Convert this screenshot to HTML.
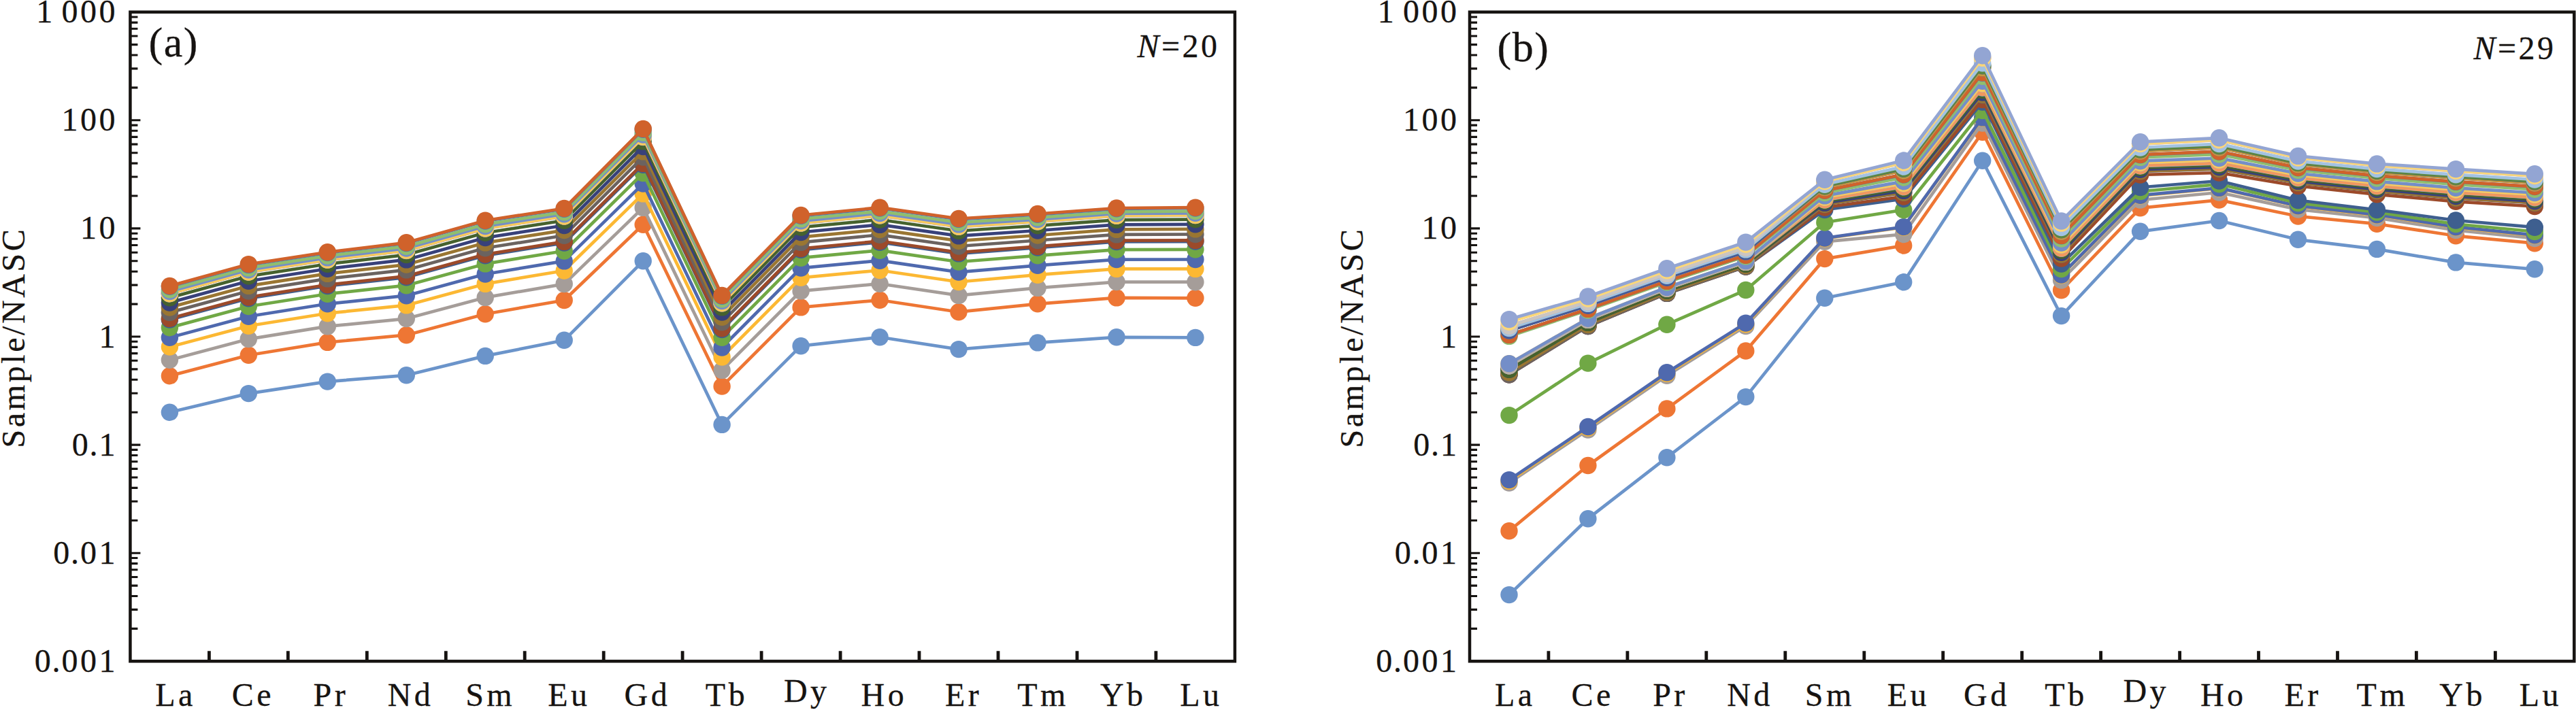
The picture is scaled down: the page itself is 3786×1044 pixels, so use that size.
<!DOCTYPE html>
<html lang="en">
<head>
<meta charset="utf-8">
<title>NASC-normalized REE patterns</title>
<style>
html,body{margin:0;padding:0;background:#fff;}
body{width:3786px;height:1044px;overflow:hidden;}
svg{display:block;}
.t{font-family:'Liberation Serif', 'Times New Roman', serif;font-size:48px;letter-spacing:3.5px;fill:#161311;stroke:#161311;stroke-width:.3px;}
.e{letter-spacing:4.5px;}
.g{font-family:'Liberation Serif', 'Times New Roman', serif;font-size:62px;letter-spacing:1.5px;fill:#161311;stroke:#161311;stroke-width:.3px;}
</style>
</head>
<body>
<svg width="3786" height="1044" viewBox="0 0 3786 1044">
<rect width="3786" height="1044" fill="#ffffff"/>
<g id="panel-a">
<g fill="#6B94CA" stroke="none"><polyline points="249.4,606.2 365.3,578.6 481.3,561.1 597.3,551.8 713.2,523.4 829.2,500.3 945.2,383.8 1061.1,624.4 1177.1,508.7 1293.1,495.8 1409,513.6 1525,503.9 1641,495.8 1756.9,496.4" fill="none" stroke="#6B94CA" stroke-width="4.7" stroke-linejoin="round"/>
<circle cx="249.4" cy="606.2" r="12.7"/>
<circle cx="365.3" cy="578.6" r="12.7"/>
<circle cx="481.3" cy="561.1" r="12.7"/>
<circle cx="597.3" cy="551.8" r="12.7"/>
<circle cx="713.2" cy="523.4" r="12.7"/>
<circle cx="829.2" cy="500.3" r="12.7"/>
<circle cx="945.2" cy="383.8" r="12.7"/>
<circle cx="1061.1" cy="624.4" r="12.7"/>
<circle cx="1177.1" cy="508.7" r="12.7"/>
<circle cx="1293.1" cy="495.8" r="12.7"/>
<circle cx="1409" cy="513.6" r="12.7"/>
<circle cx="1525" cy="503.9" r="12.7"/>
<circle cx="1641" cy="495.8" r="12.7"/>
<circle cx="1756.9" cy="496.4" r="12.7"/>
</g>
<g fill="#EE7634" stroke="none"><polyline points="249.4,552.7 365.3,522.3 481.3,503.4 597.3,492.7 713.2,461.7 829.2,441.5 945.2,330.3 1061.1,568.1 1177.1,451.9 1293.1,441.3 1409,458.7 1525,446.8 1641,437.9 1756.9,438.3" fill="none" stroke="#EE7634" stroke-width="4.7" stroke-linejoin="round"/>
<circle cx="249.4" cy="552.7" r="12.7"/>
<circle cx="365.3" cy="522.3" r="12.7"/>
<circle cx="481.3" cy="503.4" r="12.7"/>
<circle cx="597.3" cy="492.7" r="12.7"/>
<circle cx="713.2" cy="461.7" r="12.7"/>
<circle cx="829.2" cy="441.5" r="12.7"/>
<circle cx="945.2" cy="330.3" r="12.7"/>
<circle cx="1061.1" cy="568.1" r="12.7"/>
<circle cx="1177.1" cy="451.9" r="12.7"/>
<circle cx="1293.1" cy="441.3" r="12.7"/>
<circle cx="1409" cy="458.7" r="12.7"/>
<circle cx="1525" cy="446.8" r="12.7"/>
<circle cx="1641" cy="437.9" r="12.7"/>
<circle cx="1756.9" cy="438.3" r="12.7"/>
</g>
<g fill="#A59D99" stroke="none"><polyline points="249.4,529.3 365.3,498.6 481.3,479.9 597.3,468.6 713.2,437.4 829.2,417.6 945.2,305.4 1061.1,544.4 1177.1,427.9 1293.1,417.2 1409,434.4 1525,423.4 1641,414.6 1756.9,414.7" fill="none" stroke="#A59D99" stroke-width="4.7" stroke-linejoin="round"/>
<circle cx="249.4" cy="529.3" r="12.7"/>
<circle cx="365.3" cy="498.6" r="12.7"/>
<circle cx="481.3" cy="479.9" r="12.7"/>
<circle cx="597.3" cy="468.6" r="12.7"/>
<circle cx="713.2" cy="437.4" r="12.7"/>
<circle cx="829.2" cy="417.6" r="12.7"/>
<circle cx="945.2" cy="305.4" r="12.7"/>
<circle cx="1061.1" cy="544.4" r="12.7"/>
<circle cx="1177.1" cy="427.9" r="12.7"/>
<circle cx="1293.1" cy="417.2" r="12.7"/>
<circle cx="1409" cy="434.4" r="12.7"/>
<circle cx="1525" cy="423.4" r="12.7"/>
<circle cx="1641" cy="414.6" r="12.7"/>
<circle cx="1756.9" cy="414.7" r="12.7"/>
</g>
<g fill="#FCB833" stroke="none"><polyline points="249.4,510.1 365.3,479.2 481.3,460.7 597.3,448.9 713.2,417.4 829.2,398 945.2,284.9 1061.1,525 1177.1,408.3 1293.1,397.5 1409,414.5 1525,404.2 1641,395.4 1756.9,395.4" fill="none" stroke="#FCB833" stroke-width="4.7" stroke-linejoin="round"/>
<circle cx="249.4" cy="510.1" r="12.7"/>
<circle cx="365.3" cy="479.2" r="12.7"/>
<circle cx="481.3" cy="460.7" r="12.7"/>
<circle cx="597.3" cy="448.9" r="12.7"/>
<circle cx="713.2" cy="417.4" r="12.7"/>
<circle cx="829.2" cy="398" r="12.7"/>
<circle cx="945.2" cy="284.9" r="12.7"/>
<circle cx="1061.1" cy="525" r="12.7"/>
<circle cx="1177.1" cy="408.3" r="12.7"/>
<circle cx="1293.1" cy="397.5" r="12.7"/>
<circle cx="1409" cy="414.5" r="12.7"/>
<circle cx="1525" cy="404.2" r="12.7"/>
<circle cx="1641" cy="395.4" r="12.7"/>
<circle cx="1756.9" cy="395.4" r="12.7"/>
</g>
<g fill="#4F69AE" stroke="none"><polyline points="249.4,496.3 365.3,465.2 481.3,446.8 597.3,434.7 713.2,403 829.2,383.9 945.2,270.1 1061.1,511 1177.1,394.1 1293.1,383.2 1409,400.1 1525,390.3 1641,381.6 1756.9,381.5" fill="none" stroke="#4F69AE" stroke-width="4.7" stroke-linejoin="round"/>
<circle cx="249.4" cy="496.3" r="12.7"/>
<circle cx="365.3" cy="465.2" r="12.7"/>
<circle cx="481.3" cy="446.8" r="12.7"/>
<circle cx="597.3" cy="434.7" r="12.7"/>
<circle cx="713.2" cy="403" r="12.7"/>
<circle cx="829.2" cy="383.9" r="12.7"/>
<circle cx="945.2" cy="270.1" r="12.7"/>
<circle cx="1061.1" cy="511" r="12.7"/>
<circle cx="1177.1" cy="394.1" r="12.7"/>
<circle cx="1293.1" cy="383.2" r="12.7"/>
<circle cx="1409" cy="400.1" r="12.7"/>
<circle cx="1525" cy="390.3" r="12.7"/>
<circle cx="1641" cy="381.6" r="12.7"/>
<circle cx="1756.9" cy="381.5" r="12.7"/>
</g>
<g fill="#70A845" stroke="none"><polyline points="249.4,481.7 365.3,450.5 481.3,432.2 597.3,419.7 713.2,387.9 829.2,369 945.2,254.6 1061.1,496.3 1177.1,379.2 1293.1,368.2 1409,385 1525,375.8 1641,367.1 1756.9,366.8" fill="none" stroke="#70A845" stroke-width="4.7" stroke-linejoin="round"/>
<circle cx="249.4" cy="481.7" r="12.7"/>
<circle cx="365.3" cy="450.5" r="12.7"/>
<circle cx="481.3" cy="432.2" r="12.7"/>
<circle cx="597.3" cy="419.7" r="12.7"/>
<circle cx="713.2" cy="387.9" r="12.7"/>
<circle cx="829.2" cy="369" r="12.7"/>
<circle cx="945.2" cy="254.6" r="12.7"/>
<circle cx="1061.1" cy="496.3" r="12.7"/>
<circle cx="1177.1" cy="379.2" r="12.7"/>
<circle cx="1293.1" cy="368.2" r="12.7"/>
<circle cx="1409" cy="385" r="12.7"/>
<circle cx="1525" cy="375.8" r="12.7"/>
<circle cx="1641" cy="367.1" r="12.7"/>
<circle cx="1756.9" cy="366.8" r="12.7"/>
</g>
<g fill="#3E5F8F" stroke="none"><polyline points="249.4,470.1 365.3,438.7 481.3,420.5 597.3,407.8 713.2,375.8 829.2,357.1 945.2,242.2 1061.1,484.5 1177.1,367.3 1293.1,356.2 1409,372.9 1525,364.1 1641,355.5 1756.9,355.1" fill="none" stroke="#3E5F8F" stroke-width="4.7" stroke-linejoin="round"/>
<circle cx="249.4" cy="470.1" r="12.7"/>
<circle cx="365.3" cy="438.7" r="12.7"/>
<circle cx="481.3" cy="420.5" r="12.7"/>
<circle cx="597.3" cy="407.8" r="12.7"/>
<circle cx="713.2" cy="375.8" r="12.7"/>
<circle cx="829.2" cy="357.1" r="12.7"/>
<circle cx="945.2" cy="242.2" r="12.7"/>
<circle cx="1061.1" cy="484.5" r="12.7"/>
<circle cx="1177.1" cy="367.3" r="12.7"/>
<circle cx="1293.1" cy="356.2" r="12.7"/>
<circle cx="1409" cy="372.9" r="12.7"/>
<circle cx="1525" cy="364.1" r="12.7"/>
<circle cx="1641" cy="355.5" r="12.7"/>
<circle cx="1756.9" cy="355.1" r="12.7"/>
</g>
<g fill="#9C4A2A" stroke="none"><polyline points="249.4,468.4 365.3,437 481.3,418.8 597.3,406 713.2,374 829.2,355.4 945.2,240.4 1061.1,482.8 1177.1,365.5 1293.1,354.5 1409,371.2 1525,362.4 1641,353.7 1756.9,353.4" fill="none" stroke="#9C4A2A" stroke-width="4.7" stroke-linejoin="round"/>
<circle cx="249.4" cy="468.4" r="12.7"/>
<circle cx="365.3" cy="437" r="12.7"/>
<circle cx="481.3" cy="418.8" r="12.7"/>
<circle cx="597.3" cy="406" r="12.7"/>
<circle cx="713.2" cy="374" r="12.7"/>
<circle cx="829.2" cy="355.4" r="12.7"/>
<circle cx="945.2" cy="240.4" r="12.7"/>
<circle cx="1061.1" cy="482.8" r="12.7"/>
<circle cx="1177.1" cy="365.5" r="12.7"/>
<circle cx="1293.1" cy="354.5" r="12.7"/>
<circle cx="1409" cy="371.2" r="12.7"/>
<circle cx="1525" cy="362.4" r="12.7"/>
<circle cx="1641" cy="353.7" r="12.7"/>
<circle cx="1756.9" cy="353.4" r="12.7"/>
</g>
<g fill="#6B6360" stroke="none"><polyline points="249.4,459.5 365.3,428 481.3,409.9 597.3,396.9 713.2,364.8 829.2,346.3 945.2,231 1061.1,473.8 1177.1,356.4 1293.1,345.3 1409,362 1525,353.5 1641,344.9 1756.9,344.5" fill="none" stroke="#6B6360" stroke-width="4.7" stroke-linejoin="round"/>
<circle cx="249.4" cy="459.5" r="12.7"/>
<circle cx="365.3" cy="428" r="12.7"/>
<circle cx="481.3" cy="409.9" r="12.7"/>
<circle cx="597.3" cy="396.9" r="12.7"/>
<circle cx="713.2" cy="364.8" r="12.7"/>
<circle cx="829.2" cy="346.3" r="12.7"/>
<circle cx="945.2" cy="231" r="12.7"/>
<circle cx="1061.1" cy="473.8" r="12.7"/>
<circle cx="1177.1" cy="356.4" r="12.7"/>
<circle cx="1293.1" cy="345.3" r="12.7"/>
<circle cx="1409" cy="362" r="12.7"/>
<circle cx="1525" cy="353.5" r="12.7"/>
<circle cx="1641" cy="344.9" r="12.7"/>
<circle cx="1756.9" cy="344.5" r="12.7"/>
</g>
<g fill="#9A7632" stroke="none"><polyline points="249.4,452 365.3,420.4 481.3,402.4 597.3,389.1 713.2,356.9 829.2,338.6 945.2,222.9 1061.1,466.2 1177.1,348.7 1293.1,337.6 1409,354.2 1525,346 1641,337.4 1756.9,336.9" fill="none" stroke="#9A7632" stroke-width="4.7" stroke-linejoin="round"/>
<circle cx="249.4" cy="452" r="12.7"/>
<circle cx="365.3" cy="420.4" r="12.7"/>
<circle cx="481.3" cy="402.4" r="12.7"/>
<circle cx="597.3" cy="389.1" r="12.7"/>
<circle cx="713.2" cy="356.9" r="12.7"/>
<circle cx="829.2" cy="338.6" r="12.7"/>
<circle cx="945.2" cy="222.9" r="12.7"/>
<circle cx="1061.1" cy="466.2" r="12.7"/>
<circle cx="1177.1" cy="348.7" r="12.7"/>
<circle cx="1293.1" cy="337.6" r="12.7"/>
<circle cx="1409" cy="354.2" r="12.7"/>
<circle cx="1525" cy="346" r="12.7"/>
<circle cx="1641" cy="337.4" r="12.7"/>
<circle cx="1756.9" cy="336.9" r="12.7"/>
</g>
<g fill="#38417A" stroke="none"><polyline points="249.4,445 365.3,413.3 481.3,395.3 597.3,381.9 713.2,349.6 829.2,331.5 945.2,215.5 1061.1,459.1 1177.1,341.5 1293.1,330.4 1409,346.9 1525,339 1641,330.4 1756.9,329.8" fill="none" stroke="#38417A" stroke-width="4.7" stroke-linejoin="round"/>
<circle cx="249.4" cy="445" r="12.7"/>
<circle cx="365.3" cy="413.3" r="12.7"/>
<circle cx="481.3" cy="395.3" r="12.7"/>
<circle cx="597.3" cy="381.9" r="12.7"/>
<circle cx="713.2" cy="349.6" r="12.7"/>
<circle cx="829.2" cy="331.5" r="12.7"/>
<circle cx="945.2" cy="215.5" r="12.7"/>
<circle cx="1061.1" cy="459.1" r="12.7"/>
<circle cx="1177.1" cy="341.5" r="12.7"/>
<circle cx="1293.1" cy="330.4" r="12.7"/>
<circle cx="1409" cy="346.9" r="12.7"/>
<circle cx="1525" cy="339" r="12.7"/>
<circle cx="1641" cy="330.4" r="12.7"/>
<circle cx="1756.9" cy="329.8" r="12.7"/>
</g>
<g fill="#46622E" stroke="none"><polyline points="249.4,437.8 365.3,406.1 481.3,388.2 597.3,374.6 713.2,342.2 829.2,324.2 945.2,207.9 1061.1,451.9 1177.1,334.2 1293.1,323 1409,339.5 1525,331.8 1641,323.3 1756.9,322.6" fill="none" stroke="#46622E" stroke-width="4.7" stroke-linejoin="round"/>
<circle cx="249.4" cy="437.8" r="12.7"/>
<circle cx="365.3" cy="406.1" r="12.7"/>
<circle cx="481.3" cy="388.2" r="12.7"/>
<circle cx="597.3" cy="374.6" r="12.7"/>
<circle cx="713.2" cy="342.2" r="12.7"/>
<circle cx="829.2" cy="324.2" r="12.7"/>
<circle cx="945.2" cy="207.9" r="12.7"/>
<circle cx="1061.1" cy="451.9" r="12.7"/>
<circle cx="1177.1" cy="334.2" r="12.7"/>
<circle cx="1293.1" cy="323" r="12.7"/>
<circle cx="1409" cy="339.5" r="12.7"/>
<circle cx="1525" cy="331.8" r="12.7"/>
<circle cx="1641" cy="323.3" r="12.7"/>
<circle cx="1756.9" cy="322.6" r="12.7"/>
</g>
<g fill="#85ADD8" stroke="none"><polyline points="249.4,431.9 365.3,400.1 481.3,382.2 597.3,368.5 713.2,336 829.2,318.1 945.2,201.5 1061.1,445.9 1177.1,328.1 1293.1,316.9 1409,333.3 1525,325.9 1641,317.3 1756.9,316.6" fill="none" stroke="#85ADD8" stroke-width="4.7" stroke-linejoin="round"/>
<circle cx="249.4" cy="431.9" r="12.7"/>
<circle cx="365.3" cy="400.1" r="12.7"/>
<circle cx="481.3" cy="382.2" r="12.7"/>
<circle cx="597.3" cy="368.5" r="12.7"/>
<circle cx="713.2" cy="336" r="12.7"/>
<circle cx="829.2" cy="318.1" r="12.7"/>
<circle cx="945.2" cy="201.5" r="12.7"/>
<circle cx="1061.1" cy="445.9" r="12.7"/>
<circle cx="1177.1" cy="328.1" r="12.7"/>
<circle cx="1293.1" cy="316.9" r="12.7"/>
<circle cx="1409" cy="333.3" r="12.7"/>
<circle cx="1525" cy="325.9" r="12.7"/>
<circle cx="1641" cy="317.3" r="12.7"/>
<circle cx="1756.9" cy="316.6" r="12.7"/>
</g>
<g fill="#F0975F" stroke="none"><polyline points="249.4,431.7 365.3,400 481.3,382.1 597.3,368.4 713.2,335.9 829.2,318 945.2,201.4 1061.1,445.8 1177.1,328 1293.1,316.8 1409,333.2 1525,325.7 1641,317.2 1756.9,316.5" fill="none" stroke="#F0975F" stroke-width="4.7" stroke-linejoin="round"/>
<circle cx="249.4" cy="431.7" r="12.7"/>
<circle cx="365.3" cy="400" r="12.7"/>
<circle cx="481.3" cy="382.1" r="12.7"/>
<circle cx="597.3" cy="368.4" r="12.7"/>
<circle cx="713.2" cy="335.9" r="12.7"/>
<circle cx="829.2" cy="318" r="12.7"/>
<circle cx="945.2" cy="201.4" r="12.7"/>
<circle cx="1061.1" cy="445.8" r="12.7"/>
<circle cx="1177.1" cy="328" r="12.7"/>
<circle cx="1293.1" cy="316.8" r="12.7"/>
<circle cx="1409" cy="333.2" r="12.7"/>
<circle cx="1525" cy="325.7" r="12.7"/>
<circle cx="1641" cy="317.2" r="12.7"/>
<circle cx="1756.9" cy="316.5" r="12.7"/>
</g>
<g fill="#B8B1AD" stroke="none"><polyline points="249.4,431.6 365.3,399.8 481.3,381.9 597.3,368.2 713.2,335.8 829.2,317.8 945.2,201.2 1061.1,445.6 1177.1,327.9 1293.1,316.6 1409,333 1525,325.6 1641,317.1 1756.9,316.4" fill="none" stroke="#B8B1AD" stroke-width="4.7" stroke-linejoin="round"/>
<circle cx="249.4" cy="431.6" r="12.7"/>
<circle cx="365.3" cy="399.8" r="12.7"/>
<circle cx="481.3" cy="381.9" r="12.7"/>
<circle cx="597.3" cy="368.2" r="12.7"/>
<circle cx="713.2" cy="335.8" r="12.7"/>
<circle cx="829.2" cy="317.8" r="12.7"/>
<circle cx="945.2" cy="201.2" r="12.7"/>
<circle cx="1061.1" cy="445.6" r="12.7"/>
<circle cx="1177.1" cy="327.9" r="12.7"/>
<circle cx="1293.1" cy="316.6" r="12.7"/>
<circle cx="1409" cy="333" r="12.7"/>
<circle cx="1525" cy="325.6" r="12.7"/>
<circle cx="1641" cy="317.1" r="12.7"/>
<circle cx="1756.9" cy="316.4" r="12.7"/>
</g>
<g fill="#FACB5C" stroke="none"><polyline points="249.4,431.5 365.3,399.7 481.3,381.8 597.3,368.1 713.2,335.6 829.2,317.7 945.2,201.1 1061.1,445.5 1177.1,327.7 1293.1,316.5 1409,332.9 1525,325.5 1641,316.9 1756.9,316.2" fill="none" stroke="#FACB5C" stroke-width="4.7" stroke-linejoin="round"/>
<circle cx="249.4" cy="431.5" r="12.7"/>
<circle cx="365.3" cy="399.7" r="12.7"/>
<circle cx="481.3" cy="381.8" r="12.7"/>
<circle cx="597.3" cy="368.1" r="12.7"/>
<circle cx="713.2" cy="335.6" r="12.7"/>
<circle cx="829.2" cy="317.7" r="12.7"/>
<circle cx="945.2" cy="201.1" r="12.7"/>
<circle cx="1061.1" cy="445.5" r="12.7"/>
<circle cx="1177.1" cy="327.7" r="12.7"/>
<circle cx="1293.1" cy="316.5" r="12.7"/>
<circle cx="1409" cy="332.9" r="12.7"/>
<circle cx="1525" cy="325.5" r="12.7"/>
<circle cx="1641" cy="316.9" r="12.7"/>
<circle cx="1756.9" cy="316.2" r="12.7"/>
</g>
<g fill="#748EC8" stroke="none"><polyline points="249.4,428.6 365.3,396.8 481.3,378.9 597.3,365.1 713.2,332.6 829.2,314.7 945.2,198 1061.1,442.6 1177.1,324.8 1293.1,313.5 1409,329.9 1525,322.6 1641,314 1756.9,313.3" fill="none" stroke="#748EC8" stroke-width="4.7" stroke-linejoin="round"/>
<circle cx="249.4" cy="428.6" r="12.7"/>
<circle cx="365.3" cy="396.8" r="12.7"/>
<circle cx="481.3" cy="378.9" r="12.7"/>
<circle cx="597.3" cy="365.1" r="12.7"/>
<circle cx="713.2" cy="332.6" r="12.7"/>
<circle cx="829.2" cy="314.7" r="12.7"/>
<circle cx="945.2" cy="198" r="12.7"/>
<circle cx="1061.1" cy="442.6" r="12.7"/>
<circle cx="1177.1" cy="324.8" r="12.7"/>
<circle cx="1293.1" cy="313.5" r="12.7"/>
<circle cx="1409" cy="329.9" r="12.7"/>
<circle cx="1525" cy="322.6" r="12.7"/>
<circle cx="1641" cy="314" r="12.7"/>
<circle cx="1756.9" cy="313.3" r="12.7"/>
</g>
<g fill="#90BE6E" stroke="none"><polyline points="249.4,425.8 365.3,393.9 481.3,376.1 597.3,362.2 713.2,329.7 829.2,311.9 945.2,195 1061.1,439.7 1177.1,321.9 1293.1,310.6 1409,327 1525,319.8 1641,311.3 1756.9,310.5" fill="none" stroke="#90BE6E" stroke-width="4.7" stroke-linejoin="round"/>
<circle cx="249.4" cy="425.8" r="12.7"/>
<circle cx="365.3" cy="393.9" r="12.7"/>
<circle cx="481.3" cy="376.1" r="12.7"/>
<circle cx="597.3" cy="362.2" r="12.7"/>
<circle cx="713.2" cy="329.7" r="12.7"/>
<circle cx="829.2" cy="311.9" r="12.7"/>
<circle cx="945.2" cy="195" r="12.7"/>
<circle cx="1061.1" cy="439.7" r="12.7"/>
<circle cx="1177.1" cy="321.9" r="12.7"/>
<circle cx="1293.1" cy="310.6" r="12.7"/>
<circle cx="1409" cy="327" r="12.7"/>
<circle cx="1525" cy="319.8" r="12.7"/>
<circle cx="1641" cy="311.3" r="12.7"/>
<circle cx="1756.9" cy="310.5" r="12.7"/>
</g>
<g fill="#477DBB" stroke="none"><polyline points="249.4,421.3 365.3,389.4 481.3,371.6 597.3,357.6 713.2,325 829.2,307.3 945.2,190.2 1061.1,435.2 1177.1,317.3 1293.1,306 1409,322.3 1525,315.3 1641,306.8 1756.9,306" fill="none" stroke="#477DBB" stroke-width="4.7" stroke-linejoin="round"/>
<circle cx="249.4" cy="421.3" r="12.7"/>
<circle cx="365.3" cy="389.4" r="12.7"/>
<circle cx="481.3" cy="371.6" r="12.7"/>
<circle cx="597.3" cy="357.6" r="12.7"/>
<circle cx="713.2" cy="325" r="12.7"/>
<circle cx="829.2" cy="307.3" r="12.7"/>
<circle cx="945.2" cy="190.2" r="12.7"/>
<circle cx="1061.1" cy="435.2" r="12.7"/>
<circle cx="1177.1" cy="317.3" r="12.7"/>
<circle cx="1293.1" cy="306" r="12.7"/>
<circle cx="1409" cy="322.3" r="12.7"/>
<circle cx="1525" cy="315.3" r="12.7"/>
<circle cx="1641" cy="306.8" r="12.7"/>
<circle cx="1756.9" cy="306" r="12.7"/>
</g>
<g fill="#D0622B" stroke="none"><polyline points="249.4,420.5 365.3,388.6 481.3,370.8 597.3,356.8 713.2,324.2 829.2,306.5 945.2,189.4 1061.1,434.4 1177.1,316.5 1293.1,305.2 1409,321.5 1525,314.5 1641,306 1756.9,305.2" fill="none" stroke="#D0622B" stroke-width="4.7" stroke-linejoin="round"/>
<circle cx="249.4" cy="420.5" r="12.7"/>
<circle cx="365.3" cy="388.6" r="12.7"/>
<circle cx="481.3" cy="370.8" r="12.7"/>
<circle cx="597.3" cy="356.8" r="12.7"/>
<circle cx="713.2" cy="324.2" r="12.7"/>
<circle cx="829.2" cy="306.5" r="12.7"/>
<circle cx="945.2" cy="189.4" r="12.7"/>
<circle cx="1061.1" cy="434.4" r="12.7"/>
<circle cx="1177.1" cy="316.5" r="12.7"/>
<circle cx="1293.1" cy="305.2" r="12.7"/>
<circle cx="1409" cy="321.5" r="12.7"/>
<circle cx="1525" cy="314.5" r="12.7"/>
<circle cx="1641" cy="306" r="12.7"/>
<circle cx="1756.9" cy="305.2" r="12.7"/>
</g>
<path d="M191.4 128.9h11M191.4 100.9h11M191.4 81h11M191.4 65.6h11M191.4 53h11M191.4 42.3h11M191.4 33.1h11M191.4 25h11M191.4 176.8h15M191.4 288h11M191.4 260h11M191.4 240.1h11M191.4 224.7h11M191.4 212.1h11M191.4 201.4h11M191.4 192.2h11M191.4 184.1h11M191.4 335.9h15M191.4 447.1h11M191.4 419.1h11M191.4 399.2h11M191.4 383.8h11M191.4 371.2h11M191.4 360.5h11M191.4 351.3h11M191.4 343.2h11M191.4 495h15M191.4 606.2h11M191.4 578.2h11M191.4 558.3h11M191.4 542.9h11M191.4 530.3h11M191.4 519.6h11M191.4 510.4h11M191.4 502.3h11M191.4 654.1h15M191.4 765.3h11M191.4 737.3h11M191.4 717.4h11M191.4 702h11M191.4 689.4h11M191.4 678.7h11M191.4 669.5h11M191.4 661.4h11M191.4 813.2h15M191.4 924.4h11M191.4 896.4h11M191.4 876.5h11M191.4 861.1h11M191.4 848.5h11M191.4 837.8h11M191.4 828.6h11M191.4 820.5h11" fill="none" stroke="#161311" stroke-width="3.1"/>
<path d="M307.4 972.3v-15M423.3 972.3v-15M539.3 972.3v-15M655.3 972.3v-15M771.2 972.3v-15M887.2 972.3v-15M1003.1 972.3v-15M1119.1 972.3v-15M1235.1 972.3v-15M1351 972.3v-15M1467 972.3v-15M1583 972.3v-15M1698.9 972.3v-15" fill="none" stroke="#161311" stroke-width="4.8"/>
<rect x="191.4" y="17.7" width="1623.5" height="954.6" fill="none" stroke="#161311" stroke-width="4.5"/>
<text x="173" y="32.7" text-anchor="end" class="t">1<tspan dx="-5.7"> </tspan>000</text>
<text x="173" y="192.3" text-anchor="end" class="t">100</text>
<text x="173" y="351.4" text-anchor="end" class="t">10</text>
<text x="173" y="510.5" text-anchor="end" class="t">1</text>
<text x="173" y="669.6" text-anchor="end" class="t">0<tspan dx="-1.6">.</tspan><tspan dx="-1.6">1</tspan></text>
<text x="173" y="828.7" text-anchor="end" class="t">0<tspan dx="-1.6">.</tspan><tspan dx="-1.6">0</tspan>1</text>
<text x="173" y="987.8" text-anchor="end" class="t">0<tspan dx="-1.6">.</tspan><tspan dx="-1.6">0</tspan>01</text>
<text x="258.1" y="1037.6" text-anchor="middle" class="t e">La</text>
<text x="372" y="1037.6" text-anchor="middle" class="t e">Ce</text>
<text x="486.4" y="1037.6" text-anchor="middle" class="t e">Pr</text>
<text x="603.5" y="1037.6" text-anchor="middle" class="t e">Nd</text>
<text x="720.7" y="1037.6" text-anchor="middle" class="t e">Sm</text>
<text x="836.4" y="1037.6" text-anchor="middle" class="t e">Eu</text>
<text x="951.4" y="1037.6" text-anchor="middle" class="t e">Gd</text>
<text x="1068" y="1037.6" text-anchor="middle" class="t e">Tb</text>
<text x="1185.8" y="1032.3" text-anchor="middle" class="t e">Dy</text>
<text x="1299.4" y="1037.6" text-anchor="middle" class="t e">Ho</text>
<text x="1416.1" y="1037.6" text-anchor="middle" class="t e">Er</text>
<text x="1533" y="1037.6" text-anchor="middle" class="t e">Tm</text>
<text x="1650.8" y="1037.6" text-anchor="middle" class="t e">Yb</text>
<text x="1765.4" y="1037.6" text-anchor="middle" class="t e">Lu</text>
<text transform="translate(35.6 496) rotate(-90)" text-anchor="middle" class="t" style="letter-spacing:3.6px">Sample/NASC</text>
<text x="218.5" y="83" class="g">(a)</text>
<text x="1792.5" y="84" text-anchor="end" class="t"><tspan font-style="italic">N</tspan>=20</text>
</g>
<g id="panel-b">
<g fill="#6B94CA" stroke="none"><polyline points="2218,874.6 2333.9,762.7 2449.9,672.7 2565.8,583.6 2681.8,438.3 2797.7,414.8 2913.7,236.3 3029.6,464.6 3145.6,340.3 3261.5,324.5 3377.5,352.3 3493.4,366.4 3609.4,385.9 3725.3,395.8" fill="none" stroke="#6B94CA" stroke-width="4.7" stroke-linejoin="round"/>
<circle cx="2218" cy="874.6" r="12.7"/>
<circle cx="2333.9" cy="762.7" r="12.7"/>
<circle cx="2449.9" cy="672.7" r="12.7"/>
<circle cx="2565.8" cy="583.6" r="12.7"/>
<circle cx="2681.8" cy="438.3" r="12.7"/>
<circle cx="2797.7" cy="414.8" r="12.7"/>
<circle cx="2913.7" cy="236.3" r="12.7"/>
<circle cx="3029.6" cy="464.6" r="12.7"/>
<circle cx="3145.6" cy="340.3" r="12.7"/>
<circle cx="3261.5" cy="324.5" r="12.7"/>
<circle cx="3377.5" cy="352.3" r="12.7"/>
<circle cx="3493.4" cy="366.4" r="12.7"/>
<circle cx="3609.4" cy="385.9" r="12.7"/>
<circle cx="3725.3" cy="395.8" r="12.7"/>
</g>
<g fill="#EE7634" stroke="none"><polyline points="2218,780.8 2333.9,684.5 2449.9,600.9 2565.8,516 2681.8,380.6 2797.7,361 2913.7,194.3 3029.6,426.8 3145.6,305.8 3261.5,294.1 3377.5,318 3493.4,329.2 3609.4,346.8 3725.3,357.7" fill="none" stroke="#EE7634" stroke-width="4.7" stroke-linejoin="round"/>
<circle cx="2218" cy="780.8" r="12.7"/>
<circle cx="2333.9" cy="684.5" r="12.7"/>
<circle cx="2449.9" cy="600.9" r="12.7"/>
<circle cx="2565.8" cy="516" r="12.7"/>
<circle cx="2681.8" cy="380.6" r="12.7"/>
<circle cx="2797.7" cy="361" r="12.7"/>
<circle cx="2913.7" cy="194.3" r="12.7"/>
<circle cx="3029.6" cy="426.8" r="12.7"/>
<circle cx="3145.6" cy="305.8" r="12.7"/>
<circle cx="3261.5" cy="294.1" r="12.7"/>
<circle cx="3377.5" cy="318" r="12.7"/>
<circle cx="3493.4" cy="329.2" r="12.7"/>
<circle cx="3609.4" cy="346.8" r="12.7"/>
<circle cx="3725.3" cy="357.7" r="12.7"/>
</g>
<g fill="#A59D99" stroke="none"><polyline points="2218,710 2333.9,632 2449.9,552.2 2565.8,479.5 2681.8,355.3 2797.7,344.5 2913.7,181 3029.6,412 3145.6,294 3261.5,283 3377.5,308 3493.4,320.5 3609.4,338.5 3725.3,350.5" fill="none" stroke="#A59D99" stroke-width="4.7" stroke-linejoin="round"/>
<circle cx="2218" cy="710" r="12.7"/>
<circle cx="2333.9" cy="632" r="12.7"/>
<circle cx="2449.9" cy="552.2" r="12.7"/>
<circle cx="2565.8" cy="479.5" r="12.7"/>
<circle cx="2681.8" cy="355.3" r="12.7"/>
<circle cx="2797.7" cy="344.5" r="12.7"/>
<circle cx="2913.7" cy="181" r="12.7"/>
<circle cx="3029.6" cy="412" r="12.7"/>
<circle cx="3145.6" cy="294" r="12.7"/>
<circle cx="3261.5" cy="283" r="12.7"/>
<circle cx="3377.5" cy="308" r="12.7"/>
<circle cx="3493.4" cy="320.5" r="12.7"/>
<circle cx="3609.4" cy="338.5" r="12.7"/>
<circle cx="3725.3" cy="350.5" r="12.7"/>
</g>
<g fill="#FCB833" stroke="none"><polyline points="2218,707.2 2333.9,629.1 2449.9,549.3 2565.8,476.7 2681.8,350.7 2797.7,334.2 2913.7,173.5 3029.6,404.7 3145.6,287.8 3261.5,277 3377.5,303.3 3493.4,316.3 3609.4,334.3 3725.3,346.3" fill="none" stroke="#FCB833" stroke-width="4.7" stroke-linejoin="round"/>
<circle cx="2218" cy="707.2" r="12.7"/>
<circle cx="2333.9" cy="629.1" r="12.7"/>
<circle cx="2449.9" cy="549.3" r="12.7"/>
<circle cx="2565.8" cy="476.7" r="12.7"/>
<circle cx="2681.8" cy="350.7" r="12.7"/>
<circle cx="2797.7" cy="334.2" r="12.7"/>
<circle cx="2913.7" cy="173.5" r="12.7"/>
<circle cx="3029.6" cy="404.7" r="12.7"/>
<circle cx="3145.6" cy="287.8" r="12.7"/>
<circle cx="3261.5" cy="277" r="12.7"/>
<circle cx="3377.5" cy="303.3" r="12.7"/>
<circle cx="3493.4" cy="316.3" r="12.7"/>
<circle cx="3609.4" cy="334.3" r="12.7"/>
<circle cx="3725.3" cy="346.3" r="12.7"/>
</g>
<g fill="#4F69AE" stroke="none"><polyline points="2218,705.6 2333.9,627.5 2449.9,547.7 2565.8,475.1 2681.8,350.1 2797.7,333.6 2913.7,172.9 3029.6,404.1 3145.6,287.2 3261.5,276.4 3377.5,302.7 3493.4,315.7 3609.4,333.7 3725.3,345.7" fill="none" stroke="#4F69AE" stroke-width="4.7" stroke-linejoin="round"/>
<circle cx="2218" cy="705.6" r="12.7"/>
<circle cx="2333.9" cy="627.5" r="12.7"/>
<circle cx="2449.9" cy="547.7" r="12.7"/>
<circle cx="2565.8" cy="475.1" r="12.7"/>
<circle cx="2681.8" cy="350.1" r="12.7"/>
<circle cx="2797.7" cy="333.6" r="12.7"/>
<circle cx="2913.7" cy="172.9" r="12.7"/>
<circle cx="3029.6" cy="404.1" r="12.7"/>
<circle cx="3145.6" cy="287.2" r="12.7"/>
<circle cx="3261.5" cy="276.4" r="12.7"/>
<circle cx="3377.5" cy="302.7" r="12.7"/>
<circle cx="3493.4" cy="315.7" r="12.7"/>
<circle cx="3609.4" cy="333.7" r="12.7"/>
<circle cx="3725.3" cy="345.7" r="12.7"/>
</g>
<g fill="#70A845" stroke="none"><polyline points="2218,610.6 2333.9,534.1 2449.9,477.2 2565.8,426.5 2681.8,327 2797.7,308.7 2913.7,162.5 3029.6,395.6 3145.6,281.5 3261.5,270.8 3377.5,298.5 3493.4,312 3609.4,329.5 3725.3,340.5" fill="none" stroke="#70A845" stroke-width="4.7" stroke-linejoin="round"/>
<circle cx="2218" cy="610.6" r="12.7"/>
<circle cx="2333.9" cy="534.1" r="12.7"/>
<circle cx="2449.9" cy="477.2" r="12.7"/>
<circle cx="2565.8" cy="426.5" r="12.7"/>
<circle cx="2681.8" cy="327" r="12.7"/>
<circle cx="2797.7" cy="308.7" r="12.7"/>
<circle cx="2913.7" cy="162.5" r="12.7"/>
<circle cx="3029.6" cy="395.6" r="12.7"/>
<circle cx="3145.6" cy="281.5" r="12.7"/>
<circle cx="3261.5" cy="270.8" r="12.7"/>
<circle cx="3377.5" cy="298.5" r="12.7"/>
<circle cx="3493.4" cy="312" r="12.7"/>
<circle cx="3609.4" cy="329.5" r="12.7"/>
<circle cx="3725.3" cy="340.5" r="12.7"/>
</g>
<g fill="#3E5F8F" stroke="none"><polyline points="2218,550.7 2333.9,479.6 2449.9,431.4 2565.8,392.1 2681.8,308.5 2797.7,292.5 2913.7,150 3029.6,388 3145.6,275.5 3261.5,266 3377.5,294.5 3493.4,308.5 3609.4,324 3725.3,334.2" fill="none" stroke="#3E5F8F" stroke-width="4.7" stroke-linejoin="round"/>
<circle cx="2218" cy="550.7" r="12.7"/>
<circle cx="2333.9" cy="479.6" r="12.7"/>
<circle cx="2449.9" cy="431.4" r="12.7"/>
<circle cx="2565.8" cy="392.1" r="12.7"/>
<circle cx="2681.8" cy="308.5" r="12.7"/>
<circle cx="2797.7" cy="292.5" r="12.7"/>
<circle cx="2913.7" cy="150" r="12.7"/>
<circle cx="3029.6" cy="388" r="12.7"/>
<circle cx="3145.6" cy="275.5" r="12.7"/>
<circle cx="3261.5" cy="266" r="12.7"/>
<circle cx="3377.5" cy="294.5" r="12.7"/>
<circle cx="3493.4" cy="308.5" r="12.7"/>
<circle cx="3609.4" cy="324" r="12.7"/>
<circle cx="3725.3" cy="334.2" r="12.7"/>
</g>
<g fill="#9C4A2A" stroke="none"><polyline points="2218,550.7 2333.9,479.6 2449.9,431.4 2565.8,392.1 2681.8,305 2797.7,289 2913.7,146.5 3029.6,380.1 3145.6,257 3261.5,254 3377.5,273.5 3493.4,285.8 3609.4,296.3 3725.3,303.5" fill="none" stroke="#9C4A2A" stroke-width="4.7" stroke-linejoin="round"/>
<circle cx="2218" cy="550.7" r="12.7"/>
<circle cx="2333.9" cy="479.6" r="12.7"/>
<circle cx="2449.9" cy="431.4" r="12.7"/>
<circle cx="2565.8" cy="392.1" r="12.7"/>
<circle cx="2681.8" cy="305" r="12.7"/>
<circle cx="2797.7" cy="289" r="12.7"/>
<circle cx="2913.7" cy="146.5" r="12.7"/>
<circle cx="3029.6" cy="380.1" r="12.7"/>
<circle cx="3145.6" cy="257" r="12.7"/>
<circle cx="3261.5" cy="254" r="12.7"/>
<circle cx="3377.5" cy="273.5" r="12.7"/>
<circle cx="3493.4" cy="285.8" r="12.7"/>
<circle cx="3609.4" cy="296.3" r="12.7"/>
<circle cx="3725.3" cy="303.5" r="12.7"/>
</g>
<g fill="#6B6360" stroke="none"><polyline points="2218,550.7 2333.9,479.6 2449.9,431.4 2565.8,392.1 2681.8,300.7 2797.7,283.4 2913.7,139.7 3029.6,374.3 3145.6,251.9 3261.5,248.6 3377.5,268.9 3493.4,281.1 3609.4,291.3 3725.3,298.5" fill="none" stroke="#6B6360" stroke-width="4.7" stroke-linejoin="round"/>
<circle cx="2218" cy="550.7" r="12.7"/>
<circle cx="2333.9" cy="479.6" r="12.7"/>
<circle cx="2449.9" cy="431.4" r="12.7"/>
<circle cx="2565.8" cy="392.1" r="12.7"/>
<circle cx="2681.8" cy="300.7" r="12.7"/>
<circle cx="2797.7" cy="283.4" r="12.7"/>
<circle cx="2913.7" cy="139.7" r="12.7"/>
<circle cx="3029.6" cy="374.3" r="12.7"/>
<circle cx="3145.6" cy="251.9" r="12.7"/>
<circle cx="3261.5" cy="248.6" r="12.7"/>
<circle cx="3377.5" cy="268.9" r="12.7"/>
<circle cx="3493.4" cy="281.1" r="12.7"/>
<circle cx="3609.4" cy="291.3" r="12.7"/>
<circle cx="3725.3" cy="298.5" r="12.7"/>
</g>
<g fill="#9A7632" stroke="none"><polyline points="2218,547.7 2333.9,477.4 2449.9,429.7 2565.8,390.5 2681.8,300.3 2797.7,282.9 2913.7,139 3029.6,373.8 3145.6,251.4 3261.5,248.1 3377.5,268.4 3493.4,280.6 3609.4,290.8 3725.3,298" fill="none" stroke="#9A7632" stroke-width="4.7" stroke-linejoin="round"/>
<circle cx="2218" cy="547.7" r="12.7"/>
<circle cx="2333.9" cy="477.4" r="12.7"/>
<circle cx="2449.9" cy="429.7" r="12.7"/>
<circle cx="2565.8" cy="390.5" r="12.7"/>
<circle cx="2681.8" cy="300.3" r="12.7"/>
<circle cx="2797.7" cy="282.9" r="12.7"/>
<circle cx="2913.7" cy="139" r="12.7"/>
<circle cx="3029.6" cy="373.8" r="12.7"/>
<circle cx="3145.6" cy="251.4" r="12.7"/>
<circle cx="3261.5" cy="248.1" r="12.7"/>
<circle cx="3377.5" cy="268.4" r="12.7"/>
<circle cx="3493.4" cy="280.6" r="12.7"/>
<circle cx="3609.4" cy="290.8" r="12.7"/>
<circle cx="3725.3" cy="298" r="12.7"/>
</g>
<g fill="#38417A" stroke="none"><polyline points="2218,543.3 2333.9,474.4 2449.9,427.3 2565.8,388.3 2681.8,298.4 2797.7,280.4 2913.7,136 3029.6,371.2 3145.6,249.2 3261.5,245.7 3377.5,266.4 3493.4,278.5 3609.4,288.6 3725.3,295.8" fill="none" stroke="#38417A" stroke-width="4.7" stroke-linejoin="round"/>
<circle cx="2218" cy="543.3" r="12.7"/>
<circle cx="2333.9" cy="474.4" r="12.7"/>
<circle cx="2449.9" cy="427.3" r="12.7"/>
<circle cx="2565.8" cy="388.3" r="12.7"/>
<circle cx="2681.8" cy="298.4" r="12.7"/>
<circle cx="2797.7" cy="280.4" r="12.7"/>
<circle cx="2913.7" cy="136" r="12.7"/>
<circle cx="3029.6" cy="371.2" r="12.7"/>
<circle cx="3145.6" cy="249.2" r="12.7"/>
<circle cx="3261.5" cy="245.7" r="12.7"/>
<circle cx="3377.5" cy="266.4" r="12.7"/>
<circle cx="3493.4" cy="278.5" r="12.7"/>
<circle cx="3609.4" cy="288.6" r="12.7"/>
<circle cx="3725.3" cy="295.8" r="12.7"/>
</g>
<g fill="#46622E" stroke="none"><polyline points="2218,543.3 2333.9,474.4 2449.9,427.3 2565.8,388.3 2681.8,296.1 2797.7,277.4 2913.7,132.4 3029.6,368.1 3145.6,246.5 3261.5,242.8 3377.5,263.9 3493.4,276 3609.4,285.9 3725.3,293.1" fill="none" stroke="#46622E" stroke-width="4.7" stroke-linejoin="round"/>
<circle cx="2218" cy="543.3" r="12.7"/>
<circle cx="2333.9" cy="474.4" r="12.7"/>
<circle cx="2449.9" cy="427.3" r="12.7"/>
<circle cx="2565.8" cy="388.3" r="12.7"/>
<circle cx="2681.8" cy="296.1" r="12.7"/>
<circle cx="2797.7" cy="277.4" r="12.7"/>
<circle cx="2913.7" cy="132.4" r="12.7"/>
<circle cx="3029.6" cy="368.1" r="12.7"/>
<circle cx="3145.6" cy="246.5" r="12.7"/>
<circle cx="3261.5" cy="242.8" r="12.7"/>
<circle cx="3377.5" cy="263.9" r="12.7"/>
<circle cx="3493.4" cy="276" r="12.7"/>
<circle cx="3609.4" cy="285.9" r="12.7"/>
<circle cx="3725.3" cy="293.1" r="12.7"/>
</g>
<g fill="#85ADD8" stroke="none"><polyline points="2218,537.7 2333.9,470.4 2449.9,424.2 2565.8,385.4 2681.8,294.1 2797.7,274.8 2913.7,129.1 3029.6,365.3 3145.6,244.1 3261.5,240.3 3377.5,261.7 3493.4,273.8 3609.4,283.5 3725.3,290.7" fill="none" stroke="#85ADD8" stroke-width="4.7" stroke-linejoin="round"/>
<circle cx="2218" cy="537.7" r="12.7"/>
<circle cx="2333.9" cy="470.4" r="12.7"/>
<circle cx="2449.9" cy="424.2" r="12.7"/>
<circle cx="2565.8" cy="385.4" r="12.7"/>
<circle cx="2681.8" cy="294.1" r="12.7"/>
<circle cx="2797.7" cy="274.8" r="12.7"/>
<circle cx="2913.7" cy="129.1" r="12.7"/>
<circle cx="3029.6" cy="365.3" r="12.7"/>
<circle cx="3145.6" cy="244.1" r="12.7"/>
<circle cx="3261.5" cy="240.3" r="12.7"/>
<circle cx="3377.5" cy="261.7" r="12.7"/>
<circle cx="3493.4" cy="273.8" r="12.7"/>
<circle cx="3609.4" cy="283.5" r="12.7"/>
<circle cx="3725.3" cy="290.7" r="12.7"/>
</g>
<g fill="#F0975F" stroke="none"><polyline points="2218,537.7 2333.9,470.4 2449.9,424.2 2565.8,385.4 2681.8,293.8 2797.7,274.4 2913.7,128.6 3029.6,364.9 3145.6,243.7 3261.5,239.9 3377.5,261.3 3493.4,273.4 3609.4,283.1 3725.3,290.3" fill="none" stroke="#F0975F" stroke-width="4.7" stroke-linejoin="round"/>
<circle cx="2218" cy="537.7" r="12.7"/>
<circle cx="2333.9" cy="470.4" r="12.7"/>
<circle cx="2449.9" cy="424.2" r="12.7"/>
<circle cx="2565.8" cy="385.4" r="12.7"/>
<circle cx="2681.8" cy="293.8" r="12.7"/>
<circle cx="2797.7" cy="274.4" r="12.7"/>
<circle cx="2913.7" cy="128.6" r="12.7"/>
<circle cx="3029.6" cy="364.9" r="12.7"/>
<circle cx="3145.6" cy="243.7" r="12.7"/>
<circle cx="3261.5" cy="239.9" r="12.7"/>
<circle cx="3377.5" cy="261.3" r="12.7"/>
<circle cx="3493.4" cy="273.4" r="12.7"/>
<circle cx="3609.4" cy="283.1" r="12.7"/>
<circle cx="3725.3" cy="290.3" r="12.7"/>
</g>
<g fill="#B8B1AD" stroke="none"><polyline points="2218,537.7 2333.9,470.4 2449.9,424.2 2565.8,385.4 2681.8,290.3 2797.7,269.8 2913.7,123 3029.6,360.2 3145.6,239.5 3261.5,235.5 3377.5,257.5 3493.4,269.5 3609.4,279 3725.3,286.2" fill="none" stroke="#B8B1AD" stroke-width="4.7" stroke-linejoin="round"/>
<circle cx="2218" cy="537.7" r="12.7"/>
<circle cx="2333.9" cy="470.4" r="12.7"/>
<circle cx="2449.9" cy="424.2" r="12.7"/>
<circle cx="2565.8" cy="385.4" r="12.7"/>
<circle cx="2681.8" cy="290.3" r="12.7"/>
<circle cx="2797.7" cy="269.8" r="12.7"/>
<circle cx="2913.7" cy="123" r="12.7"/>
<circle cx="3029.6" cy="360.2" r="12.7"/>
<circle cx="3145.6" cy="239.5" r="12.7"/>
<circle cx="3261.5" cy="235.5" r="12.7"/>
<circle cx="3377.5" cy="257.5" r="12.7"/>
<circle cx="3493.4" cy="269.5" r="12.7"/>
<circle cx="3609.4" cy="279" r="12.7"/>
<circle cx="3725.3" cy="286.2" r="12.7"/>
</g>
<g fill="#FACB5C" stroke="none"><polyline points="2218,534.7 2333.9,468.2 2449.9,422.5 2565.8,383.8 2681.8,289.9 2797.7,269.4 2913.7,122.5 3029.6,359.7 3145.6,239.1 3261.5,235.1 3377.5,257.2 3493.4,269.2 3609.4,278.7 3725.3,285.9" fill="none" stroke="#FACB5C" stroke-width="4.7" stroke-linejoin="round"/>
<circle cx="2218" cy="534.7" r="12.7"/>
<circle cx="2333.9" cy="468.2" r="12.7"/>
<circle cx="2449.9" cy="422.5" r="12.7"/>
<circle cx="2565.8" cy="383.8" r="12.7"/>
<circle cx="2681.8" cy="289.9" r="12.7"/>
<circle cx="2797.7" cy="269.4" r="12.7"/>
<circle cx="2913.7" cy="122.5" r="12.7"/>
<circle cx="3029.6" cy="359.7" r="12.7"/>
<circle cx="3145.6" cy="239.1" r="12.7"/>
<circle cx="3261.5" cy="235.1" r="12.7"/>
<circle cx="3377.5" cy="257.2" r="12.7"/>
<circle cx="3493.4" cy="269.2" r="12.7"/>
<circle cx="3609.4" cy="278.7" r="12.7"/>
<circle cx="3725.3" cy="285.9" r="12.7"/>
</g>
<g fill="#748EC8" stroke="none"><polyline points="2218,534.7 2333.9,468.2 2449.9,422.5 2565.8,383.8 2681.8,287.9 2797.7,266.7 2913.7,119.3 3029.6,357 3145.6,236.7 3261.5,232.5 3377.5,255 3493.4,266.9 3609.4,276.3 3725.3,283.5" fill="none" stroke="#748EC8" stroke-width="4.7" stroke-linejoin="round"/>
<circle cx="2218" cy="534.7" r="12.7"/>
<circle cx="2333.9" cy="468.2" r="12.7"/>
<circle cx="2449.9" cy="422.5" r="12.7"/>
<circle cx="2565.8" cy="383.8" r="12.7"/>
<circle cx="2681.8" cy="287.9" r="12.7"/>
<circle cx="2797.7" cy="266.7" r="12.7"/>
<circle cx="2913.7" cy="119.3" r="12.7"/>
<circle cx="3029.6" cy="357" r="12.7"/>
<circle cx="3145.6" cy="236.7" r="12.7"/>
<circle cx="3261.5" cy="232.5" r="12.7"/>
<circle cx="3377.5" cy="255" r="12.7"/>
<circle cx="3493.4" cy="266.9" r="12.7"/>
<circle cx="3609.4" cy="276.3" r="12.7"/>
<circle cx="3725.3" cy="283.5" r="12.7"/>
</g>
<g fill="#90BE6E" stroke="none"><polyline points="2218,494.4 2333.9,456 2449.9,415 2565.8,376.9 2681.8,283.5 2797.7,261 2913.7,112.2 3029.6,351 3145.6,231.4 3261.5,226.9 3377.5,250.2 3493.4,262 3609.4,271.1 3725.3,278.3" fill="none" stroke="#90BE6E" stroke-width="4.7" stroke-linejoin="round"/>
<circle cx="2218" cy="494.4" r="12.7"/>
<circle cx="2333.9" cy="456" r="12.7"/>
<circle cx="2449.9" cy="415" r="12.7"/>
<circle cx="2565.8" cy="376.9" r="12.7"/>
<circle cx="2681.8" cy="283.5" r="12.7"/>
<circle cx="2797.7" cy="261" r="12.7"/>
<circle cx="2913.7" cy="112.2" r="12.7"/>
<circle cx="3029.6" cy="351" r="12.7"/>
<circle cx="3145.6" cy="231.4" r="12.7"/>
<circle cx="3261.5" cy="226.9" r="12.7"/>
<circle cx="3377.5" cy="250.2" r="12.7"/>
<circle cx="3493.4" cy="262" r="12.7"/>
<circle cx="3609.4" cy="271.1" r="12.7"/>
<circle cx="3725.3" cy="278.3" r="12.7"/>
</g>
<g fill="#477DBB" stroke="none"><polyline points="2218,492.4 2333.9,454.4 2449.9,413.4 2565.8,375.2 2681.8,280.3 2797.7,256.9 2913.7,107.2 3029.6,346.7 3145.6,227.7 3261.5,223 3377.5,246.8 3493.4,258.6 3609.4,267.4 3725.3,274.6" fill="none" stroke="#477DBB" stroke-width="4.7" stroke-linejoin="round"/>
<circle cx="2218" cy="492.4" r="12.7"/>
<circle cx="2333.9" cy="454.4" r="12.7"/>
<circle cx="2449.9" cy="413.4" r="12.7"/>
<circle cx="2565.8" cy="375.2" r="12.7"/>
<circle cx="2681.8" cy="280.3" r="12.7"/>
<circle cx="2797.7" cy="256.9" r="12.7"/>
<circle cx="2913.7" cy="107.2" r="12.7"/>
<circle cx="3029.6" cy="346.7" r="12.7"/>
<circle cx="3145.6" cy="227.7" r="12.7"/>
<circle cx="3261.5" cy="223" r="12.7"/>
<circle cx="3377.5" cy="246.8" r="12.7"/>
<circle cx="3493.4" cy="258.6" r="12.7"/>
<circle cx="3609.4" cy="267.4" r="12.7"/>
<circle cx="3725.3" cy="274.6" r="12.7"/>
</g>
<g fill="#D0622B" stroke="none"><polyline points="2218,492.4 2333.9,454.4 2449.9,413.4 2565.8,375.2 2681.8,280.1 2797.7,256.6 2913.7,106.8 3029.6,346.4 3145.6,227.4 3261.5,222.7 3377.5,246.5 3493.4,258.3 3609.4,267.1 3725.3,274.3" fill="none" stroke="#D0622B" stroke-width="4.7" stroke-linejoin="round"/>
<circle cx="2218" cy="492.4" r="12.7"/>
<circle cx="2333.9" cy="454.4" r="12.7"/>
<circle cx="2449.9" cy="413.4" r="12.7"/>
<circle cx="2565.8" cy="375.2" r="12.7"/>
<circle cx="2681.8" cy="280.1" r="12.7"/>
<circle cx="2797.7" cy="256.6" r="12.7"/>
<circle cx="2913.7" cy="106.8" r="12.7"/>
<circle cx="3029.6" cy="346.4" r="12.7"/>
<circle cx="3145.6" cy="227.4" r="12.7"/>
<circle cx="3261.5" cy="222.7" r="12.7"/>
<circle cx="3377.5" cy="246.5" r="12.7"/>
<circle cx="3493.4" cy="258.3" r="12.7"/>
<circle cx="3609.4" cy="267.1" r="12.7"/>
<circle cx="3725.3" cy="274.3" r="12.7"/>
</g>
<g fill="#86807D" stroke="none"><polyline points="2218,486.1 2333.9,449.3 2449.9,408.2 2565.8,369.9 2681.8,275.7 2797.7,250.8 2913.7,99.8 3029.6,340.4 3145.6,222.2 3261.5,217.1 3377.5,241.7 3493.4,253.5 3609.4,262 3725.3,269.2" fill="none" stroke="#86807D" stroke-width="4.7" stroke-linejoin="round"/>
<circle cx="2218" cy="486.1" r="12.7"/>
<circle cx="2333.9" cy="449.3" r="12.7"/>
<circle cx="2449.9" cy="408.2" r="12.7"/>
<circle cx="2565.8" cy="369.9" r="12.7"/>
<circle cx="2681.8" cy="275.7" r="12.7"/>
<circle cx="2797.7" cy="250.8" r="12.7"/>
<circle cx="2913.7" cy="99.8" r="12.7"/>
<circle cx="3029.6" cy="340.4" r="12.7"/>
<circle cx="3145.6" cy="222.2" r="12.7"/>
<circle cx="3261.5" cy="217.1" r="12.7"/>
<circle cx="3377.5" cy="241.7" r="12.7"/>
<circle cx="3493.4" cy="253.5" r="12.7"/>
<circle cx="3609.4" cy="262" r="12.7"/>
<circle cx="3725.3" cy="269.2" r="12.7"/>
</g>
<g fill="#C9993A" stroke="none"><polyline points="2218,486.1 2333.9,449.3 2449.9,408.2 2565.8,369.9 2681.8,275.4 2797.7,250.5 2913.7,99.4 3029.6,340 3145.6,221.9 3261.5,216.8 3377.5,241.4 3493.4,253.2 3609.4,261.6 3725.3,268.8" fill="none" stroke="#C9993A" stroke-width="4.7" stroke-linejoin="round"/>
<circle cx="2218" cy="486.1" r="12.7"/>
<circle cx="2333.9" cy="449.3" r="12.7"/>
<circle cx="2449.9" cy="408.2" r="12.7"/>
<circle cx="2565.8" cy="369.9" r="12.7"/>
<circle cx="2681.8" cy="275.4" r="12.7"/>
<circle cx="2797.7" cy="250.5" r="12.7"/>
<circle cx="2913.7" cy="99.4" r="12.7"/>
<circle cx="3029.6" cy="340" r="12.7"/>
<circle cx="3145.6" cy="221.9" r="12.7"/>
<circle cx="3261.5" cy="216.8" r="12.7"/>
<circle cx="3377.5" cy="241.4" r="12.7"/>
<circle cx="3493.4" cy="253.2" r="12.7"/>
<circle cx="3609.4" cy="261.6" r="12.7"/>
<circle cx="3725.3" cy="268.8" r="12.7"/>
</g>
<g fill="#45599B" stroke="none"><polyline points="2218,486.1 2333.9,449.3 2449.9,408.2 2565.8,369.9 2681.8,273.7 2797.7,248.3 2913.7,96.7 3029.6,337.8 3145.6,219.9 3261.5,214.7 3377.5,239.6 3493.4,251.3 3609.4,259.7 3725.3,266.9" fill="none" stroke="#45599B" stroke-width="4.7" stroke-linejoin="round"/>
<circle cx="2218" cy="486.1" r="12.7"/>
<circle cx="2333.9" cy="449.3" r="12.7"/>
<circle cx="2449.9" cy="408.2" r="12.7"/>
<circle cx="2565.8" cy="369.9" r="12.7"/>
<circle cx="2681.8" cy="273.7" r="12.7"/>
<circle cx="2797.7" cy="248.3" r="12.7"/>
<circle cx="2913.7" cy="96.7" r="12.7"/>
<circle cx="3029.6" cy="337.8" r="12.7"/>
<circle cx="3145.6" cy="219.9" r="12.7"/>
<circle cx="3261.5" cy="214.7" r="12.7"/>
<circle cx="3377.5" cy="239.6" r="12.7"/>
<circle cx="3493.4" cy="251.3" r="12.7"/>
<circle cx="3609.4" cy="259.7" r="12.7"/>
<circle cx="3725.3" cy="266.9" r="12.7"/>
</g>
<g fill="#5C8740" stroke="none"><polyline points="2218,482.5 2333.9,446.4 2449.9,405.3 2565.8,366.9 2681.8,273.5 2797.7,248 2913.7,96.4 3029.6,337.5 3145.6,219.7 3261.5,214.4 3377.5,239.4 3493.4,251.1 3609.4,259.4 3725.3,266.6" fill="none" stroke="#5C8740" stroke-width="4.7" stroke-linejoin="round"/>
<circle cx="2218" cy="482.5" r="12.7"/>
<circle cx="2333.9" cy="446.4" r="12.7"/>
<circle cx="2449.9" cy="405.3" r="12.7"/>
<circle cx="2565.8" cy="366.9" r="12.7"/>
<circle cx="2681.8" cy="273.5" r="12.7"/>
<circle cx="2797.7" cy="248" r="12.7"/>
<circle cx="2913.7" cy="96.4" r="12.7"/>
<circle cx="3029.6" cy="337.5" r="12.7"/>
<circle cx="3145.6" cy="219.7" r="12.7"/>
<circle cx="3261.5" cy="214.4" r="12.7"/>
<circle cx="3377.5" cy="239.4" r="12.7"/>
<circle cx="3493.4" cy="251.1" r="12.7"/>
<circle cx="3609.4" cy="259.4" r="12.7"/>
<circle cx="3725.3" cy="266.6" r="12.7"/>
</g>
<g fill="#A2C2E2" stroke="none"><polyline points="2218,482.5 2333.9,446.4 2449.9,405.3 2565.8,366.9 2681.8,271.3 2797.7,245.1 2913.7,92.8 3029.6,334.5 3145.6,217 3261.5,211.6 3377.5,237 3493.4,248.6 3609.4,256.8 3725.3,264" fill="none" stroke="#A2C2E2" stroke-width="4.7" stroke-linejoin="round"/>
<circle cx="2218" cy="482.5" r="12.7"/>
<circle cx="2333.9" cy="446.4" r="12.7"/>
<circle cx="2449.9" cy="405.3" r="12.7"/>
<circle cx="2565.8" cy="366.9" r="12.7"/>
<circle cx="2681.8" cy="271.3" r="12.7"/>
<circle cx="2797.7" cy="245.1" r="12.7"/>
<circle cx="2913.7" cy="92.8" r="12.7"/>
<circle cx="3029.6" cy="334.5" r="12.7"/>
<circle cx="3145.6" cy="217" r="12.7"/>
<circle cx="3261.5" cy="211.6" r="12.7"/>
<circle cx="3377.5" cy="237" r="12.7"/>
<circle cx="3493.4" cy="248.6" r="12.7"/>
<circle cx="3609.4" cy="256.8" r="12.7"/>
<circle cx="3725.3" cy="264" r="12.7"/>
</g>
<g fill="#F2B188" stroke="none"><polyline points="2218,479 2333.9,443.6 2449.9,402.4 2565.8,364 2681.8,266.7 2797.7,239.2 2913.7,85.6 3029.6,328.3 3145.6,211.6 3261.5,205.9 3377.5,232 3493.4,243.6 3609.4,251.5 3725.3,258.7" fill="none" stroke="#F2B188" stroke-width="4.7" stroke-linejoin="round"/>
<circle cx="2218" cy="479" r="12.7"/>
<circle cx="2333.9" cy="443.6" r="12.7"/>
<circle cx="2449.9" cy="402.4" r="12.7"/>
<circle cx="2565.8" cy="364" r="12.7"/>
<circle cx="2681.8" cy="266.7" r="12.7"/>
<circle cx="2797.7" cy="239.2" r="12.7"/>
<circle cx="2913.7" cy="85.6" r="12.7"/>
<circle cx="3029.6" cy="328.3" r="12.7"/>
<circle cx="3145.6" cy="211.6" r="12.7"/>
<circle cx="3261.5" cy="205.9" r="12.7"/>
<circle cx="3377.5" cy="232" r="12.7"/>
<circle cx="3493.4" cy="243.6" r="12.7"/>
<circle cx="3609.4" cy="251.5" r="12.7"/>
<circle cx="3725.3" cy="258.7" r="12.7"/>
</g>
<g fill="#CAC5C2" stroke="none"><polyline points="2218,479 2333.9,443.6 2449.9,402.4 2565.8,364 2681.8,266.6 2797.7,239 2913.7,85.3 3029.6,328.1 3145.6,211.4 3261.5,205.7 3377.5,231.9 3493.4,243.4 3609.4,251.3 3725.3,258.5" fill="none" stroke="#CAC5C2" stroke-width="4.7" stroke-linejoin="round"/>
<circle cx="2218" cy="479" r="12.7"/>
<circle cx="2333.9" cy="443.6" r="12.7"/>
<circle cx="2449.9" cy="402.4" r="12.7"/>
<circle cx="2565.8" cy="364" r="12.7"/>
<circle cx="2681.8" cy="266.6" r="12.7"/>
<circle cx="2797.7" cy="239" r="12.7"/>
<circle cx="2913.7" cy="85.3" r="12.7"/>
<circle cx="3029.6" cy="328.1" r="12.7"/>
<circle cx="3145.6" cy="211.4" r="12.7"/>
<circle cx="3261.5" cy="205.7" r="12.7"/>
<circle cx="3377.5" cy="231.9" r="12.7"/>
<circle cx="3493.4" cy="243.4" r="12.7"/>
<circle cx="3609.4" cy="251.3" r="12.7"/>
<circle cx="3725.3" cy="258.5" r="12.7"/>
</g>
<g fill="#FBD778" stroke="none"><polyline points="2218,473.3 2333.9,439 2449.9,397.7 2565.8,359.2 2681.8,266.4 2797.7,238.8 2913.7,85.1 3029.6,327.9 3145.6,211.2 3261.5,205.5 3377.5,231.7 3493.4,243.2 3609.4,251.1 3725.3,258.3" fill="none" stroke="#FBD778" stroke-width="4.7" stroke-linejoin="round"/>
<circle cx="2218" cy="473.3" r="12.7"/>
<circle cx="2333.9" cy="439" r="12.7"/>
<circle cx="2449.9" cy="397.7" r="12.7"/>
<circle cx="2565.8" cy="359.2" r="12.7"/>
<circle cx="2681.8" cy="266.4" r="12.7"/>
<circle cx="2797.7" cy="238.8" r="12.7"/>
<circle cx="2913.7" cy="85.1" r="12.7"/>
<circle cx="3029.6" cy="327.9" r="12.7"/>
<circle cx="3145.6" cy="211.2" r="12.7"/>
<circle cx="3261.5" cy="205.5" r="12.7"/>
<circle cx="3377.5" cy="231.7" r="12.7"/>
<circle cx="3493.4" cy="243.2" r="12.7"/>
<circle cx="3609.4" cy="251.1" r="12.7"/>
<circle cx="3725.3" cy="258.3" r="12.7"/>
</g>
<g fill="#93A5D3" stroke="none"><polyline points="2218,469.6 2333.9,436 2449.9,394.7 2565.8,356.1 2681.8,264.3 2797.7,236 2913.7,81.7 3029.6,325 3145.6,208.7 3261.5,202.8 3377.5,229.4 3493.4,240.9 3609.4,248.6 3725.3,255.8" fill="none" stroke="#93A5D3" stroke-width="4.7" stroke-linejoin="round"/>
<circle cx="2218" cy="469.6" r="12.7"/>
<circle cx="2333.9" cy="436" r="12.7"/>
<circle cx="2449.9" cy="394.7" r="12.7"/>
<circle cx="2565.8" cy="356.1" r="12.7"/>
<circle cx="2681.8" cy="264.3" r="12.7"/>
<circle cx="2797.7" cy="236" r="12.7"/>
<circle cx="2913.7" cy="81.7" r="12.7"/>
<circle cx="3029.6" cy="325" r="12.7"/>
<circle cx="3145.6" cy="208.7" r="12.7"/>
<circle cx="3261.5" cy="202.8" r="12.7"/>
<circle cx="3377.5" cy="229.4" r="12.7"/>
<circle cx="3493.4" cy="240.9" r="12.7"/>
<circle cx="3609.4" cy="248.6" r="12.7"/>
<circle cx="3725.3" cy="255.8" r="12.7"/>
</g>
<path d="M2160 128.9h11M2160 100.9h11M2160 81h11M2160 65.6h11M2160 53h11M2160 42.3h11M2160 33.1h11M2160 25h11M2160 176.8h15M2160 288h11M2160 260h11M2160 240.1h11M2160 224.7h11M2160 212.1h11M2160 201.4h11M2160 192.2h11M2160 184.1h11M2160 335.9h15M2160 447.1h11M2160 419.1h11M2160 399.2h11M2160 383.8h11M2160 371.2h11M2160 360.5h11M2160 351.3h11M2160 343.2h11M2160 495h15M2160 606.2h11M2160 578.2h11M2160 558.3h11M2160 542.9h11M2160 530.3h11M2160 519.6h11M2160 510.4h11M2160 502.3h11M2160 654.1h15M2160 765.3h11M2160 737.3h11M2160 717.4h11M2160 702h11M2160 689.4h11M2160 678.7h11M2160 669.5h11M2160 661.4h11M2160 813.2h15M2160 924.4h11M2160 896.4h11M2160 876.5h11M2160 861.1h11M2160 848.5h11M2160 837.8h11M2160 828.6h11M2160 820.5h11" fill="none" stroke="#161311" stroke-width="3.1"/>
<path d="M2275.9 972.3v-15M2391.9 972.3v-15M2507.8 972.3v-15M2623.8 972.3v-15M2739.8 972.3v-15M2855.7 972.3v-15M2971.7 972.3v-15M3087.6 972.3v-15M3203.6 972.3v-15M3319.5 972.3v-15M3435.5 972.3v-15M3551.4 972.3v-15M3667.4 972.3v-15" fill="none" stroke="#161311" stroke-width="4.8"/>
<rect x="2160" y="17.7" width="1623.3" height="954.6" fill="none" stroke="#161311" stroke-width="4.5"/>
<text x="2144.5" y="32.7" text-anchor="end" class="t">1<tspan dx="-5.7"> </tspan>000</text>
<text x="2144.5" y="192.3" text-anchor="end" class="t">100</text>
<text x="2144.5" y="351.4" text-anchor="end" class="t">10</text>
<text x="2144.5" y="510.5" text-anchor="end" class="t">1</text>
<text x="2144.5" y="669.6" text-anchor="end" class="t">0<tspan dx="-1.6">.</tspan><tspan dx="-1.6">1</tspan></text>
<text x="2144.5" y="828.7" text-anchor="end" class="t">0<tspan dx="-1.6">.</tspan><tspan dx="-1.6">0</tspan>1</text>
<text x="2144.5" y="987.8" text-anchor="end" class="t">0<tspan dx="-1.6">.</tspan><tspan dx="-1.6">0</tspan>01</text>
<text x="2226.7" y="1037.6" text-anchor="middle" class="t e">La</text>
<text x="2340.6" y="1037.6" text-anchor="middle" class="t e">Ce</text>
<text x="2455" y="1037.6" text-anchor="middle" class="t e">Pr</text>
<text x="2572" y="1037.6" text-anchor="middle" class="t e">Nd</text>
<text x="2689.3" y="1037.6" text-anchor="middle" class="t e">Sm</text>
<text x="2804.9" y="1037.6" text-anchor="middle" class="t e">Eu</text>
<text x="2919.9" y="1037.6" text-anchor="middle" class="t e">Gd</text>
<text x="3036.5" y="1037.6" text-anchor="middle" class="t e">Tb</text>
<text x="3154.3" y="1032.3" text-anchor="middle" class="t e">Dy</text>
<text x="3267.8" y="1037.6" text-anchor="middle" class="t e">Ho</text>
<text x="3384.6" y="1037.6" text-anchor="middle" class="t e">Er</text>
<text x="3501.4" y="1037.6" text-anchor="middle" class="t e">Tm</text>
<text x="3619.2" y="1037.6" text-anchor="middle" class="t e">Yb</text>
<text x="3733.8" y="1037.6" text-anchor="middle" class="t e">Lu</text>
<text transform="translate(2003 496) rotate(-90)" text-anchor="middle" class="t" style="letter-spacing:3.6px">Sample/NASC</text>
<text x="2200.5" y="89.5" class="g">(b)</text>
<text x="3756.5" y="87.3" text-anchor="end" class="t"><tspan font-style="italic">N</tspan>=29</text>
</g>
</svg>
</body>
</html>
